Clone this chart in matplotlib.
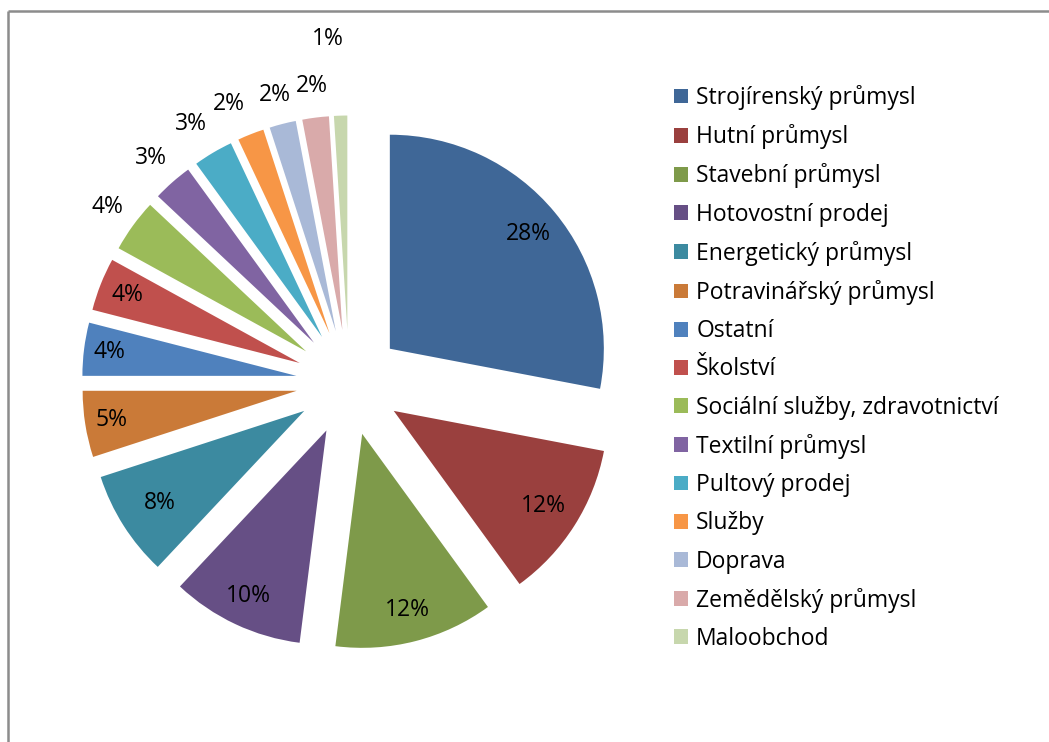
import numpy as np
import matplotlib
matplotlib.use("Agg")
import matplotlib.pyplot as plt

# data
categories = [
    "Strojírenský průmysl", "Hutní průmysl", "Stavební průmysl",
    "Hotovostní prodej", "Energetický průmysl", "Potravinářský průmysl",
    "Ostatní", "Školství", "Sociální služby, zdravotnictví",
    "Textilní průmysl", "Pultový prodej", "Služby", "Doprava",
    "Zemědělský průmysl", "Maloobchod",
]
shares = [28, 12, 12, 10, 8, 5, 4, 4, 4, 3, 3, 2, 2, 2, 1]
colors = [
    "#3F6797", "#9A403E", "#7E9A4A", "#664F85", "#3C8AA0", "#CA7A38",
    "#4F81BD", "#C0504D", "#9BBB59", "#8064A2", "#4BACC6", "#F79646",
    "#A9B9D7", "#D9AAAA", "#C7D7AD",
]
# label distance from wedge tip, in radii
label_dist = [0.84, 0.83, 0.85, 0.855, 0.80, 0.875, 0.88, 0.865,
              1.15, 1.15, 1.17, 1.17, 1.14, 1.15, 1.36]
label_turn = [0, 0, 0, 0, 0, 0, 0, 0, 0, 0, 1, 2, 0, 0, 2]

W, H = 1049, 742
plt.rcParams["font.family"] = ["Open Sans", "DejaVu Sans"]

fig = plt.figure(figsize=(W / 100, H / 100), dpi=100)
ax = fig.add_axes([0, 0, 1, 1])

# chart frame (top and left edges visible)
ax.plot([8, 8], [0, H - 11], color="#8c8c8c", lw=1.8, solid_capstyle="butt")
ax.plot([8, W], [H - 11, H - 11], color="#8c8c8c", lw=1.8, solid_capstyle="butt")

R = 214
wedges, _ = ax.pie(shares, colors=colors, radius=R, center=(349, H - 382.5),
                   startangle=90, counterclock=False,
                   explode=[53] * len(shares), frame=True)
ax.set_xlim(0, W)
ax.set_ylim(0, H)
ax.set_aspect("equal")
ax.axis("off")

for w, v, d, t in zip(wedges, shares, label_dist, label_turn):
    mid = np.deg2rad((w.theta1 + w.theta2) / 2 + t)
    cx, cy = w.center
    ax.text(cx + d * R * np.cos(mid), cy + d * R * np.sin(mid), f"{v}%",
            ha="center", va="center", fontsize=16.5, color="#000000")

ax.legend(wedges, categories, loc="upper left",
          bbox_to_anchor=(674 / W, 1 - 85 / H), frameon=False,
          fontsize=16.5, handlelength=0.62, handleheight=0.62,
          handletextpad=0.35, labelspacing=0.62, borderpad=0,
          borderaxespad=0)

fig.savefig("out.png", dpi=100, facecolor="white")
